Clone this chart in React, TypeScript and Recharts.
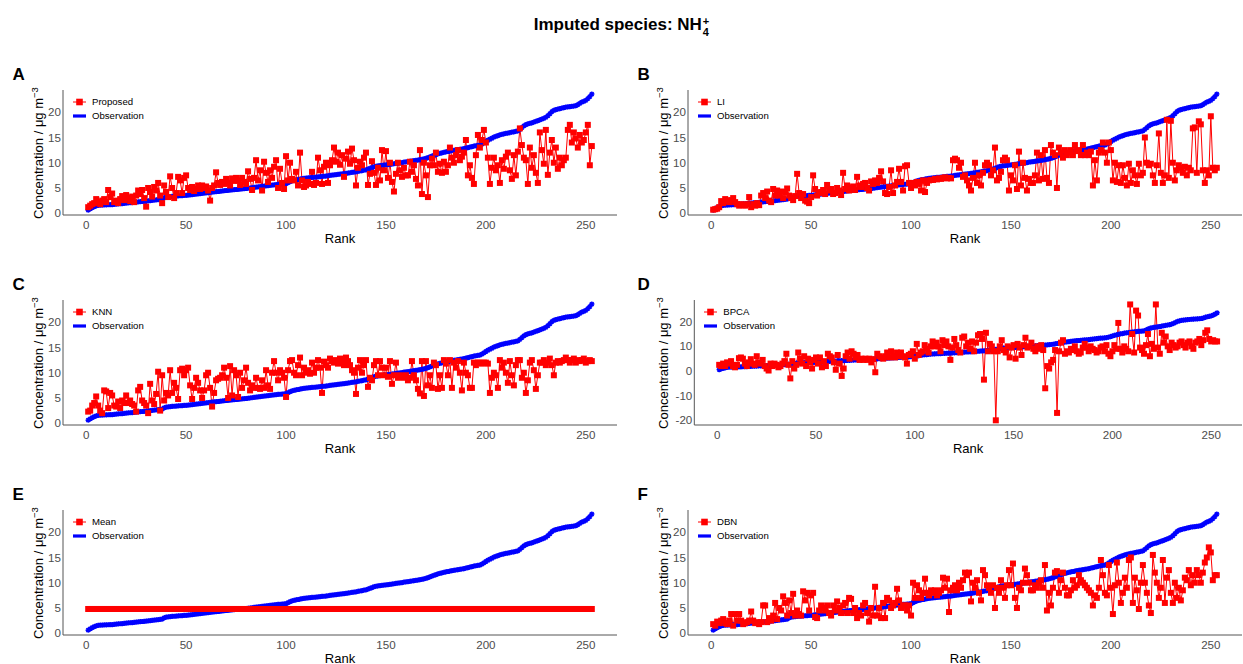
import React from 'react'
import { Legend, Line, LineChart, XAxis, YAxis } from 'recharts'

const FONT = '"Liberation Sans", Arial, Helvetica, sans-serif'

// observed concentrations, sorted ascending (rank 1..253)
const observation = [
  0.6, 0.85, 1.1, 1.3, 1.45, 1.55, 1.6, 1.62, 1.64, 1.66,
  1.68, 1.7, 1.72, 1.76, 1.8, 1.84, 1.88, 1.92, 1.96, 2.0,
  2.04, 2.08, 2.12, 2.16, 2.2, 2.24, 2.28, 2.32, 2.36, 2.4,
  2.45, 2.5, 2.55, 2.6, 2.65, 2.7, 2.75, 2.8, 3.05, 3.2,
  3.24, 3.28, 3.32, 3.36, 3.4, 3.43, 3.46, 3.49, 3.52, 3.55,
  3.6, 3.65, 3.7, 3.75, 3.8, 3.85, 3.9, 3.95, 4.0, 4.05,
  4.1, 4.14, 4.18, 4.22, 4.26, 4.3, 4.35, 4.4, 4.45, 4.5,
  4.54, 4.58, 4.62, 4.66, 4.7, 4.74, 4.78, 4.82, 4.86, 4.9,
  4.95, 5.0, 5.05, 5.1, 5.15, 5.2, 5.25, 5.3, 5.35, 5.4,
  5.45, 5.5, 5.55, 5.6, 5.65, 5.7, 5.74, 5.78, 5.82, 5.86,
  6.05, 6.25, 6.4, 6.5, 6.6, 6.68, 6.76, 6.84, 6.9, 6.95,
  7.0, 7.04, 7.08, 7.12, 7.16, 7.2, 7.24, 7.28, 7.32, 7.36,
  7.42, 7.48, 7.54, 7.6, 7.65, 7.7, 7.75, 7.8, 7.85, 7.9,
  7.96, 8.02, 8.08, 8.14, 8.2, 8.28, 8.36, 8.44, 8.52, 8.6,
  8.75, 8.9, 9.05, 9.2, 9.3, 9.36, 9.42, 9.48, 9.52, 9.56,
  9.62, 9.68, 9.74, 9.8, 9.86, 9.92, 9.98, 10.04, 10.1, 10.16,
  10.22, 10.28, 10.34, 10.4, 10.46, 10.52, 10.6, 10.68, 10.76, 10.85,
  11.0, 11.15, 11.3, 11.45, 11.6, 11.75, 11.85, 11.95, 12.05, 12.15,
  12.22, 12.3, 12.38, 12.45, 12.52, 12.6, 12.66, 12.72, 12.8, 12.9,
  13.0, 13.1, 13.2, 13.3, 13.36, 13.42, 13.5, 13.7, 13.95, 14.2,
  14.45, 14.65, 14.85, 15.05, 15.2, 15.35, 15.5, 15.6, 15.7, 15.8,
  15.88, 15.96, 16.04, 16.12, 16.2, 16.3, 16.6, 16.95, 17.3, 17.55,
  17.7, 17.8, 17.9, 18.05, 18.2, 18.35, 18.5, 18.65, 18.8, 19.0,
  19.3, 19.7, 20.1, 20.35, 20.5, 20.6, 20.7, 20.8, 20.9, 21.0,
  21.05, 21.1, 21.15, 21.2, 21.3, 21.5, 21.75, 22.0, 22.15, 22.35,
  22.7, 23.1, 23.6,
]

const proposed = [
  1.2, 1.5, 1.8, 2.0, 2.8, 2.2, 1.8, 2.5, 2.8, 2.2,
  4.6, 3.2, 3.9, 2.2, 2.5, 2.0, 2.8, 3.4, 2.6, 3.6,
  3.0, 2.4, 3.3, 2.2, 3.5, 4.5, 3.8, 4.6, 3.0, 1.3,
  5.0, 4.2, 3.3, 5.2, 4.5, 6.0, 3.5, 2.0, 5.5, 4.2,
  3.2, 7.3, 5.0, 3.0, 4.0, 7.2, 6.5, 4.0, 7.0, 7.5,
  5.0, 4.6, 5.2, 4.4, 4.8, 5.5, 4.8, 5.5, 5.0, 5.3,
  4.5, 2.5, 5.0, 5.5, 8.1, 6.0, 5.6, 6.2, 5.8, 6.8,
  6.0, 5.5, 6.9, 6.4, 7.0, 6.5, 5.6, 7.0, 6.2, 5.8,
  8.3, 6.8, 4.6, 7.0, 10.5, 6.5, 8.5, 4.5, 10.2, 8.0,
  6.2, 8.5, 7.0, 9.2, 10.5, 5.0, 8.8, 6.0, 4.8, 11.3,
  6.5, 10.0, 6.8, 6.5, 8.2, 5.5, 12.0, 6.5, 5.2, 5.5,
  6.2, 5.8, 8.2, 5.6, 6.0, 11.0, 8.5, 5.8, 9.2, 10.0,
  6.0, 9.5, 10.5, 13.0, 10.2, 12.0, 9.6, 11.5, 7.2, 10.8,
  12.2, 9.8, 12.8, 10.5, 5.5, 9.0, 10.2, 9.5, 11.0, 12.0,
  5.6, 7.8, 10.3, 8.0, 5.6, 9.0, 6.5, 12.5, 8.5, 12.3,
  7.0, 10.0, 6.2, 4.3, 7.8, 10.0, 8.5, 7.2, 9.0, 7.5,
  7.5, 10.2, 8.2, 9.5, 6.8, 5.5, 12.5, 3.8, 10.0, 7.5,
  3.2, 9.5, 10.8, 9.5, 12.0, 8.2, 9.8, 8.0, 10.2, 8.2,
  9.5, 13.0, 11.0, 10.0, 11.5, 12.5, 10.5, 11.2, 12.0, 14.5,
  7.5, 9.5, 7.0, 5.8, 11.5, 15.5, 13.0, 14.5, 16.5, 14.0,
  11.0, 5.8, 9.0, 11.0, 8.5, 9.5, 6.0, 10.5, 8.8, 11.2,
  12.0, 8.5, 6.8, 11.5, 7.5, 12.2, 16.8, 13.5, 11.0, 10.5,
  5.8, 13.0, 9.0, 11.5, 8.0, 6.0, 16.0, 12.5, 9.8, 16.5,
  7.6, 12.0, 14.5, 10.0, 13.0, 8.8, 11.0, 9.5, 10.5, 11.0,
  16.5, 17.5, 14.0, 16.0, 14.8, 13.0, 15.5, 14.0, 14.5, 16.0,
  17.5, 9.5, 13.3,
]

const li = [
  0.7, 0.8, 0.9, 1.2, 2.4, 2.0, 2.8, 2.5, 2.2, 2.6,
  3.0, 2.2, 1.8, 1.5, 1.8, 1.6, 1.5, 1.8, 3.2, 1.2,
  1.8, 1.5, 2.0, 1.6, 3.5, 4.0, 3.0, 4.3, 2.5, 2.2,
  4.8, 3.5, 4.5, 3.5, 4.3, 3.0, 4.2, 4.9, 3.5, 3.0,
  2.6, 3.4, 7.8, 4.0, 3.0, 3.8, 2.5, 2.3, 2.0, 3.2,
  7.5, 4.8, 3.5, 4.0, 4.2, 4.6, 3.8, 5.6, 4.5, 4.8,
  3.8, 4.0, 5.0, 4.5, 3.6, 8.0, 4.8, 5.5, 4.5, 5.0,
  5.3, 4.6, 7.2, 5.5, 5.2, 5.8, 6.0, 5.0, 4.5, 6.3,
  5.8, 6.5, 6.0, 7.0, 8.3, 6.3, 4.0, 3.8, 5.2, 8.5,
  4.0, 5.5, 6.2, 8.8, 6.2, 4.5, 9.3, 9.5, 6.0, 5.0,
  6.0, 5.5, 6.2, 5.8, 4.5, 6.5, 4.2, 6.0, 6.5, 6.6,
  6.6, 6.8, 6.7, 6.9, 6.8, 7.0, 7.1, 6.9, 7.0, 6.9,
  10.5, 10.8, 10.5, 9.0, 10.0, 7.2, 7.5, 6.5, 5.5, 4.5,
  7.0, 10.0, 6.0, 7.5, 5.5, 8.0, 9.5, 10.0, 9.5, 7.5,
  8.5, 13.0, 6.5, 7.0, 8.2, 10.5, 11.0, 10.5, 4.5, 7.5,
  6.5, 9.5, 4.8, 12.2, 5.5, 10.0, 7.0, 4.5, 6.8, 6.0,
  6.0, 7.5, 12.0, 6.5, 11.5, 6.8, 12.5, 7.0, 6.0, 13.5,
  12.0, 11.5, 5.0, 13.0, 12.0, 11.0, 12.5, 11.5, 12.0, 12.5,
  11.5, 13.5, 12.3, 12.5, 11.5, 13.5, 11.5, 12.0, 11.5, 12.2,
  5.5, 10.5, 6.5, 12.0, 12.5, 14.0, 12.0, 10.0, 14.0, 12.5,
  6.5, 10.0, 6.2, 9.5, 6.0, 9.5, 7.0, 5.5, 9.8, 6.0,
  8.5, 7.5, 5.8, 9.8, 7.5, 8.0, 15.0, 10.0, 9.5, 9.8,
  7.5, 6.0, 9.5, 15.8, 8.0, 6.0, 7.5, 18.5, 7.0, 18.3,
  10.0, 6.5, 8.5, 9.5, 9.0, 8.0, 9.2, 7.5, 9.0, 8.5,
  16.8, 17.0, 8.0, 18.2, 17.6, 8.5, 6.0, 8.5, 7.5, 19.2,
  9.0, 8.5, 9.0,
]

const knn = [
  2.3, 2.5, 3.5, 4.0, 5.3, 3.5, 2.5, 2.0, 6.5, 6.3,
  3.0, 6.0, 5.5, 3.5, 3.3, 4.3, 3.0, 4.5, 4.0, 5.5,
  4.0, 4.5, 3.8, 3.5, 2.3, 6.5, 7.2, 4.5, 4.0, 3.5,
  2.0, 7.8, 4.5, 3.8, 5.8, 10.2, 2.5, 9.5, 4.5, 6.0,
  5.5, 10.5, 6.0, 8.0, 7.0, 4.8, 10.5, 10.8, 9.5, 10.5,
  11.0, 7.5, 4.8, 7.0, 9.0, 8.0, 6.5, 5.0, 6.5, 9.5,
  10.0, 7.0, 3.3, 6.0, 8.5, 8.8, 9.0, 9.5, 11.0, 9.0,
  5.0, 11.3, 5.5, 10.5, 9.5, 5.2, 10.0, 7.0, 8.5, 11.0,
  8.0, 6.5, 7.5, 7.0, 9.0, 7.0, 6.8, 8.5, 7.0, 10.5,
  7.5, 6.8, 10.0, 12.3, 10.0, 8.5, 10.5, 10.0, 9.0, 5.2,
  10.5, 12.3, 12.5, 10.0, 9.5, 11.5, 13.0, 9.5, 11.0, 10.0,
  10.5, 9.8, 12.0, 10.0, 11.0, 12.5, 11.0, 6.0, 12.2, 11.5,
  11.0, 12.8, 12.3, 12.0, 12.5, 11.8, 12.8, 12.5, 11.5, 13.0,
  12.3, 11.5, 10.5, 10.0, 5.8, 11.0, 12.5, 10.0, 11.5, 12.5,
  7.2, 9.0, 8.5, 11.5, 12.3, 9.5, 12.3, 11.0, 9.5, 11.0,
  9.2, 12.3, 7.8, 9.5, 12.0, 9.0, 9.5, 9.2, 9.0, 9.5,
  8.5, 9.0, 12.3, 9.5, 8.5, 6.8, 5.9, 12.3, 5.4, 12.3,
  7.5, 9.5, 7.0, 12.0, 11.5, 6.8, 9.5, 7.0, 12.5, 11.8,
  9.5, 12.5, 7.0, 12.0, 11.0, 12.3, 10.0, 6.5, 12.0, 10.0,
  9.5, 7.0, 7.0, 12.0, 11.5, 12.0, 12.0, 11.8, 12.0, 12.0,
  11.8, 6.0, 9.0, 10.0, 9.5, 7.0, 12.5, 11.0, 12.0, 10.0,
  8.0, 12.3, 9.5, 7.5, 11.5, 12.5, 12.5, 9.0, 10.0, 6.0,
  8.5, 12.0, 12.5, 10.5, 6.8, 9.5, 12.0, 12.0, 12.5, 11.5,
  12.0, 12.8, 11.5, 9.5, 12.0, 12.3, 12.0, 12.3, 12.5, 13.0,
  12.5, 12.0, 12.5, 12.8, 12.0, 12.5, 12.3, 12.5, 12.8, 12.0,
  12.3, 12.5, 12.3,
]

const bpca = [
  2.5, 2.0, 3.0, 2.0, 3.5, 3.0, 4.0, 2.0, 1.5, 2.5,
  5.2, 5.5, 5.0, 3.0, 2.0, 3.5, 4.8, 3.0, 2.5, 6.0,
  3.5, 3.0, 4.5, 2.0, 1.0, 0.2, 3.0, 2.0, 3.0, 2.5,
  1.5, 2.0, 3.0, 4.0, 7.0, 2.5, -3.0, 4.0, 1.0, 2.5,
  7.5, 5.0, 3.0, 6.0, 2.0, 5.0, 3.5, 1.0, 4.5, 5.5,
  3.0, 5.5, 1.5, 4.0, 2.0, 7.0, 6.0, 5.5, 3.5, 0.5,
  6.5, 3.0, -2.0, 1.0, 6.0, 7.5, 5.0, 8.0, 7.0, 5.5,
  6.5, 4.5, 5.0, 4.5, 5.0, 4.5, 5.0, 3.5, 4.8, -0.5,
  7.0, 6.0, 5.5, 5.0, 6.0, 7.5, 5.5, 8.0, 6.0, 5.5,
  7.5, 6.0, 7.5, 6.0, 5.5, 3.0, 6.5, 7.0, 8.0, 5.0,
  11.0, 6.5, 7.5, 8.0, 10.5, 9.0, 7.5, 10.0, 12.0, 10.0,
  11.5, 10.0, 8.0, 12.5, 10.5, 12.0, 10.0, 4.5, 9.5, 13.0,
  10.5, 8.5, 7.5, 13.5, 14.0, 10.0, 11.5, 9.0, 12.0, 8.0,
  11.5, 14.5, 15.0, 13.0, -3.5, 15.5, 8.0, 11.0, 10.0, 8.0,
  -20.0, 8.0, 10.0, 12.5, 8.5, 7.5, 10.0, 5.5, 9.5, 10.5,
  5.0, 11.0, 9.5, 6.5, 10.5, 13.5, 9.5, 10.0, 11.5, 9.0,
  8.0, 10.0, 9.0, 10.5, 8.5, -7.0, 2.0, 1.0, 3.5, 4.5,
  8.5, -17.0, 8.0, 11.5, 12.5, 7.0, 8.0, 7.5, 9.0, 8.5,
  10.0, 8.0, 7.0, 7.5, 9.5, 11.0, 9.5, 8.0, 10.0, 9.0,
  8.5, 7.5, 8.0, 9.5, 10.0, 8.0, 10.5, 7.0, 6.0, 8.0,
  10.5, 9.0, 19.5, 9.0, 7.5, 10.0, 9.0, 8.0, 27.0, 15.0,
  7.5, 24.5, 22.5, 9.5, 8.5, 7.0, 10.5, 15.0, 6.0, 11.0,
  9.0, 27.0, 9.5, 7.0, 15.5, 11.5, 14.0, 10.0, 8.5, 11.5,
  10.5, 9.5, 10.0, 11.5, 12.0, 10.5, 9.5, 11.5, 12.0, 10.0,
  9.0, 11.5, 12.0, 13.0, 10.5, 12.5, 15.5, 16.5, 13.0, 12.0,
  12.5, 12.0, 12.0,
]

const meanValue = 4.8

const dbn = [
  1.8, 1.5, 2.3, 2.0, 2.5, 2.8, 2.0, 1.8, 2.5, 3.8,
  1.5, 3.8, 2.5, 3.8, 2.5, 1.8, 2.0, 2.2, 2.5, 4.3,
  2.5, 2.0, 2.2, 1.8, 2.2, 5.5, 5.5, 2.2, 3.0, 2.5,
  3.5, 6.0, 2.8, 5.0, 4.5, 7.3, 6.0, 3.5, 6.5, 4.0,
  7.8, 3.5, 4.5, 3.8, 3.5, 8.3, 6.5, 8.0, 4.5, 7.5,
  8.0, 3.2, 3.0, 4.5, 5.5, 5.0, 4.5, 5.5, 4.0, 3.5,
  5.5, 4.5, 6.3, 5.0, 4.0, 5.5, 6.0, 4.0, 7.0, 6.8,
  4.0, 5.0, 3.0, 4.0, 3.5, 5.5, 6.0, 4.0, 2.3, 5.0,
  3.5, 9.2, 3.5, 5.0, 3.0, 6.0, 3.0, 7.0, 6.5, 5.0,
  5.5, 6.0, 8.8, 6.5, 5.0, 5.5, 5.5, 4.5, 5.5, 3.5,
  10.0, 7.0, 9.5, 8.5, 7.0, 8.0, 10.8, 8.0, 7.5, 8.5,
  8.0, 8.5, 7.5, 8.0, 8.5, 11.0, 9.0, 10.8, 4.2, 8.5,
  9.0, 9.5, 8.5, 10.0, 9.0, 10.5, 12.0, 11.5, 12.0, 6.3,
  10.0, 9.0, 10.5, 8.0, 6.5, 12.5, 11.5, 9.5, 9.0, 8.0,
  9.5, 5.0, 9.0, 8.0, 10.5, 9.0, 7.0, 9.5, 12.5, 9.5,
  13.8, 7.0, 5.0, 9.0, 8.5, 10.0, 12.8, 11.5, 10.0, 8.5,
  8.5, 9.5, 9.0, 10.0, 10.5, 9.0, 13.5, 4.5, 8.0, 5.5,
  9.0, 12.0, 12.3, 8.0, 10.5, 12.0, 9.0, 7.5, 7.5, 8.5,
  10.5, 9.0, 9.5, 11.5, 10.5, 10.0, 9.5, 9.0, 8.5, 8.0,
  5.5, 7.5, 7.0, 9.0, 14.5, 11.5, 8.0, 7.5, 13.5, 9.0,
  3.8, 9.5, 14.0, 10.0, 6.0, 8.0, 11.0, 9.0, 14.5, 15.0,
  6.0, 11.0, 8.5, 4.8, 10.0, 13.5, 10.0, 8.0, 5.5, 4.0,
  15.5, 12.0, 10.0, 7.0, 9.0, 14.5, 6.0, 11.0, 12.5, 8.0,
  6.0, 10.0, 7.0, 9.0, 6.5, 8.5, 11.0, 10.5, 12.5, 9.5,
  11.5, 10.0, 12.5, 11.5, 10.0, 12.0, 14.0, 15.0, 17.0, 16.0,
  10.5, 11.5, 11.5,
]

const rankTicks = [0, 50, 100, 150, 200, 250]
const concTicks = [0, 5, 10, 15, 20]
const wideConcTicks = [-20, -10, 0, 10, 20]

const RED = '#FF0000'
const BLUE = '#0000FF'

const RedSquare = (props: any) => {
  const { cx, cy, index } = props
  if (cx == null || cy == null) return <g key={`r${index}`} />
  return <rect key={`r${index}`} x={cx - 3} y={cy - 3} width={6} height={6} fill={RED} />
}

const BlueStar = (props: any) => {
  const { cx, cy, index } = props
  if (cx == null || cy == null) return <g key={`b${index}`} />
  const d = `M${cx - 2.6},${cy}h5.2M${cx},${cy - 2.6}v5.2M${cx - 1.9},${cy - 1.9}l3.8,3.8M${cx - 1.9},${cy + 1.9}l3.8,-3.8`
  return <path key={`b${index}`} d={d} stroke={BLUE} strokeWidth={1.4} fill="none" />
}

interface PanelProps {
  letter: string
  name: string
  values: number[]
  left: number
  top: number
  yDomain: [number, number]
  yTicks: number[]
  yAxisWidth: number
}

function Panel({ letter, name, values, left, top, yDomain, yTicks, yAxisWidth }: PanelProps) {
  const data = observation.map((obs, i) => ({ rank: i + 1, obs, imp: values[i] }))

  const renderLegend = () => (
    <div style={{ fontFamily: FONT, fontSize: 9.6, color: '#000', lineHeight: '14px' }}>
      <div style={{ display: 'flex', alignItems: 'center' }}>
        <svg width={13} height={10} style={{ marginRight: 6 }}>
          <line x1={0} x2={13} y1={5} y2={5} stroke={RED} strokeWidth={1} />
          <rect x={3.2} y={1.7} width={6.6} height={6.6} fill={RED} />
        </svg>
        <span>{name}</span>
      </div>
      <div style={{ display: 'flex', alignItems: 'center' }}>
        <svg width={13} height={10} style={{ marginRight: 6 }}>
          <line x1={0} x2={13} y1={5} y2={5} stroke={BLUE} strokeWidth={3.2} />
        </svg>
        <span>Observation</span>
      </div>
    </div>
  )

  return (
    <div style={{ position: 'absolute', left, top, width: 621, height: 210 }}>
      <LineChart width={621} height={210} data={data} margin={{ top: 35, right: 4, bottom: 0, left: 0 }}>
        <XAxis
          type="number"
          dataKey="rank"
          domain={[-11.6, 265.6]}
          ticks={rankTicks}
          allowDataOverflow
          height={50}
          tickLine={false}
          tickSize={0}
          tickMargin={6}
          axisLine={{ stroke: '#555', strokeWidth: 1 }}
          tick={{ fill: '#4D4D4D', fontSize: 11.6, fontFamily: FONT }}
          label={{ value: 'Rank', position: 'insideBottom', offset: 22, fill: '#000', fontSize: 13, fontFamily: FONT }}
        />
        <YAxis
          type="number"
          domain={yDomain}
          ticks={yTicks}
          allowDataOverflow
          width={yAxisWidth}
          tickLine={false}
          tickSize={0}
          tickMargin={2}
          axisLine={{ stroke: '#555', strokeWidth: 1 }}
          tick={{ fill: '#4D4D4D', fontSize: 11.6, fontFamily: FONT }}
        />
        <Legend
          layout="horizontal"
          verticalAlign="middle"
          align="center"
          content={renderLegend}
          wrapperStyle={{ left: yAxisWidth + 10, top: 39.7, width: 'auto', height: 'auto' }}
        />
        <Line
          type="linear"
          dataKey="obs"
          stroke={BLUE}
          strokeWidth={1.2}
          dot={BlueStar}
          activeDot={false}
          isAnimationActive={false}
        />
        <Line
          type="linear"
          dataKey="imp"
          stroke={RED}
          strokeWidth={1}
          dot={RedSquare}
          activeDot={false}
          isAnimationActive={false}
        />
      </LineChart>
      <div
        style={{
          position: 'absolute',
          left: 12.5,
          top: 11.2,
          fontFamily: FONT,
          fontWeight: 700,
          fontSize: 17,
          lineHeight: '17px',
          color: '#000',
        }}
      >
        {letter}
      </div>
      <div
        style={{
          position: 'absolute',
          left: 37.5,
          top: 97.5,
          transform: 'translate(-50%, -50%) rotate(-90deg)',
          whiteSpace: 'nowrap',
          fontFamily: FONT,
          fontSize: 13,
          color: '#000',
          lineHeight: '15px',
        }}
      >
        Concentration / μg m<sup style={{ fontSize: 9.5, verticalAlign: 'top', position: 'relative', top: -4 }}>−3</sup>
      </div>
    </div>
  )
}

const normalDomain: [number, number] = [-0.35, 24.4]
const bpcaDomain: [number, number] = [-21.9, 28.8]
const meanSeries = observation.map(() => meanValue)

export default function App() {
  return (
    <div style={{ position: 'absolute', left: 0, top: 0, width: 1243, height: 664, background: '#fff' }}>
      <div
        style={{
          position: 'absolute',
          left: 0,
          top: 15,
          width: 1243,
          textAlign: 'center',
          fontFamily: FONT,
          fontWeight: 700,
          fontSize: 17,
          lineHeight: '20px',
          color: '#000',
        }}
      >
        Imputed species: NH
        <span
          style={{
            display: 'inline-block',
            verticalAlign: -6,
            fontSize: 11,
            lineHeight: '11px',
            marginLeft: 1,
            textAlign: 'left',
          }}
        >
          <span style={{ display: 'block' }}>+</span>
          <span style={{ display: 'block' }}>4</span>
        </span>
      </div>
      <Panel letter="A" name="Proposed" values={proposed} left={0} top={55} yDomain={normalDomain} yTicks={concTicks} yAxisWidth={63} />
      <Panel letter="B" name="LI" values={li} left={625} top={55} yDomain={normalDomain} yTicks={concTicks} yAxisWidth={63} />
      <Panel letter="C" name="KNN" values={knn} left={0} top={265} yDomain={normalDomain} yTicks={concTicks} yAxisWidth={63} />
      <Panel letter="D" name="BPCA" values={bpca} left={625} top={265} yDomain={bpcaDomain} yTicks={wideConcTicks} yAxisWidth={69.3} />
      <Panel letter="E" name="Mean" values={meanSeries} left={0} top={475} yDomain={normalDomain} yTicks={concTicks} yAxisWidth={63} />
      <Panel letter="F" name="DBN" values={dbn} left={625} top={475} yDomain={normalDomain} yTicks={concTicks} yAxisWidth={63} />
    </div>
  )
}
